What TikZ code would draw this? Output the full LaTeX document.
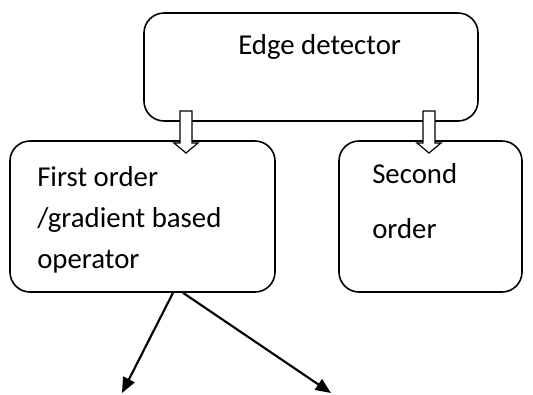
\documentclass[tikz,border=0pt]{standalone}
\usepackage{fontspec}
\setmainfont{Carlito}
\usetikzlibrary{arrows.meta,calc}
\tikzset{
  box/.style={draw, line width=1.2pt, rounded corners=15pt, inner sep=0pt},
  lbl/.style={anchor=base west, inner sep=0pt, font=\fontsize{21.6}{25}\selectfont},
  hollowdown/.pic={
    \draw[line width=0.9pt, fill=white, line join=miter]
      (-6,-32) -- (6,-32) -- (6,0) -- (12,0) -- (0,10) -- (-12,0) -- (-6,0) -- cycle;
  },
  pointer/.style={line width=1.6pt, -{Triangle[length=11.5pt, width=9.5pt]}}
}
\begin{document}
\begin{tikzpicture}[x=0.75pt, y=-0.75pt]
  \useasboundingbox (0,0) rectangle (533,394);
  % boxes
  \node[box, minimum width=334*0.75pt, minimum height=108*0.75pt] (edge) at (311,67) {};
  \node[box, minimum width=265*0.75pt, minimum height=151*0.75pt] (first) at (142.5,216.5) {};
  \node[box, minimum width=183*0.75pt, minimum height=151*0.75pt] (second) at (430.5,216.5) {};
  % labels
  \node[lbl] (edgeT) at (238,54) {Edge detector};
  \node[lbl] (firstA) at (37,186) {First order};
  \node[lbl] (firstB) at (37,227) {/gradient based};
  \node[lbl] (firstC) at (37,268) {operator};
  \node[lbl] (secondA) at (372,183) {Second};
  \node[lbl] (secondB) at (372,238) {order};
  % hollow arrows from the top box to the two classes
  \pic at (186,143) {hollowdown};
  \pic at (429,143) {hollowdown};
  % branches below the first-order box
  \coordinate (leftEnd) at (122,393);
  \coordinate (rightEnd) at (331,393);
  \draw[pointer] ($(first.south)+(30.5,0)$) -- (leftEnd);
  \draw[pointer] ($(first.south)+(40.5,0)$) -- (rightEnd);
\end{tikzpicture}
\end{document}
